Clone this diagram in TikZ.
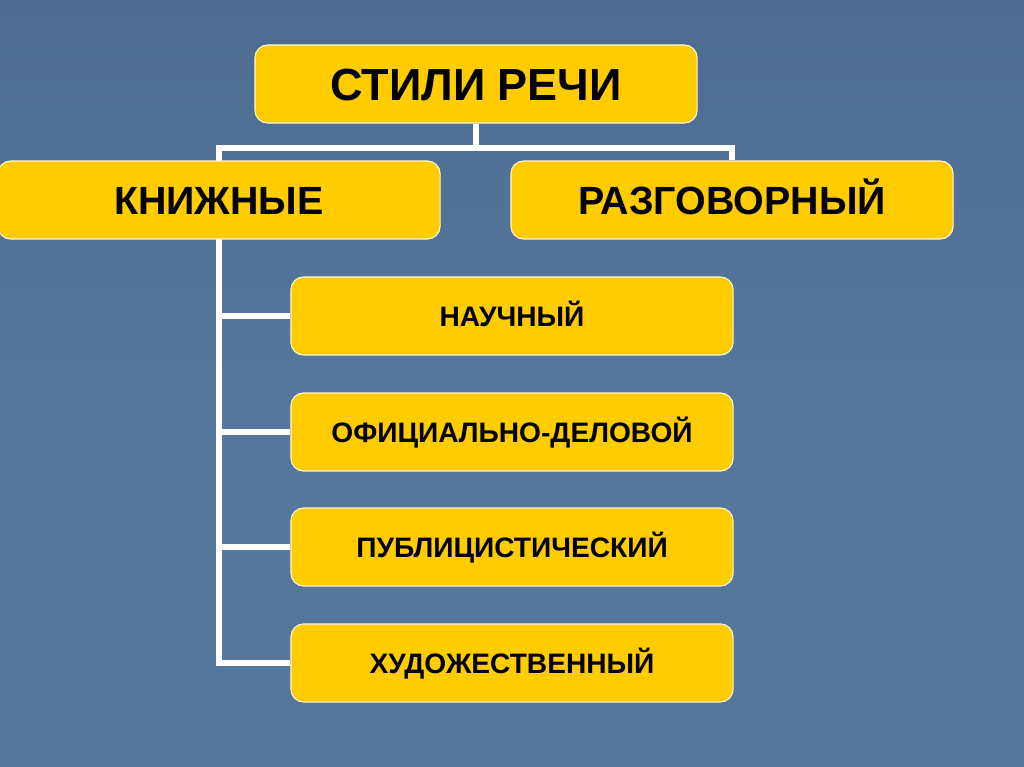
\documentclass[tikz,border=0pt]{standalone}
\usepackage{fontspec}
\setmainfont{Liberation Sans}
\usetikzlibrary{backgrounds,calc}
\definecolor{slideblue}{RGB}{86,119,156}
\definecolor{slidedark}{RGB}{76,107,143}
\definecolor{boxgold}{RGB}{255,204,0}
\begin{document}
\begin{tikzpicture}[x=0.025cm, y=-0.025cm,
    stylebox/.style={draw=white!85!boxgold, line width=0.8pt, fill=boxgold,
      rounded corners=9pt, minimum width=11.05cm, minimum height=1.95cm,
      text depth=0pt, text=black},
    bigtext/.style={font=\fontsize{32}{36}\selectfont\bfseries, text height=23pt},
    midtext/.style={font=\fontsize{28}{33}\selectfont\bfseries, text height=20pt},
    smalltext/.style={font=\fontsize{20}{24}\selectfont\bfseries, text height=14.4pt},
    link/.style={white, line width=4.3pt}]
    \useasboundingbox (0,0) rectangle (1024,767);
    % boxes
    \node[stylebox, bigtext] (stili) at (476,84) {СТИЛИ РЕЧИ};
    \node[stylebox, midtext] (knizh) at (219,200) {КНИЖНЫЕ};
    \node[stylebox, midtext] (razg) at (732,200) {РАЗГОВОРНЫЙ};
    \node[stylebox, smalltext] (nauch) at (512,316) {НАУЧНЫЙ};
    \node[stylebox, smalltext] (ofic) at (512,432) {ОФИЦИАЛЬНО-ДЕЛОВОЙ};
    \node[stylebox, smalltext] (publ) at (512,547) {ПУБЛИЦИСТИЧЕСКИЙ};
    \node[stylebox, smalltext] (hud) at (512,663) {ХУДОЖЕСТВЕННЫЙ};
    % background and connectors behind the boxes
    \begin{scope}[on background layer]
        \shade[top color=slidedark, bottom color=slideblue, middle color=slideblue]
            (0,0) rectangle (1024,767);
        \coordinate (fork) at ($(stili.south)+(0,24)$);
        \draw[link] (stili.south) -- (fork);
        \draw[link] (knizh.center) |- (fork) -| (razg.north);
        \draw[link] (knizh.center) |- (hud.west);
        \draw[link] (nauch.west) -| (knizh.south);
        \draw[link] (ofic.west) -| (knizh.south);
        \draw[link] (publ.west) -| (knizh.south);
    \end{scope}
\end{tikzpicture}
\end{document}
